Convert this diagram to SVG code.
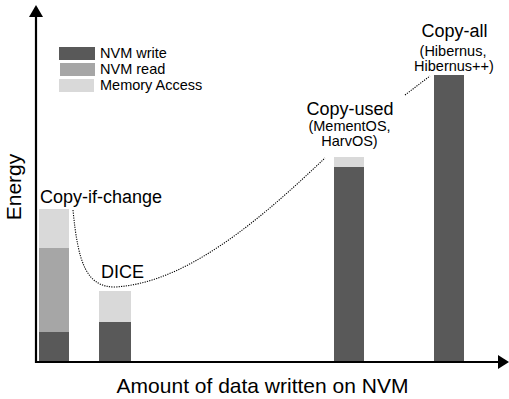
<svg xmlns="http://www.w3.org/2000/svg" width="509" height="399" viewBox="0 0 509 399">
<style>
.t{font-family:"Liberation Sans",Arial,sans-serif;fill:#000}
.lbl{font-size:18px}
.sub{font-size:14.5px}
.ax{font-size:21px}
.dk{fill:#595959}
.md{fill:#a6a6a6}
.lt{fill:#d9d9d9}
.dot{fill:none;stroke:#000;stroke-width:1.1;stroke-dasharray:1.2 1.2}
</style>
<rect width="509" height="399" fill="#fff"/>
<g id="legend">
<rect class="dk" x="59" y="47" width="36" height="13"/>
<rect class="md" x="60" y="63" width="35" height="13"/>
<rect class="lt" x="59" y="79" width="35" height="13"/>
<text class="t sub" x="100" y="58">NVM write</text>
<text class="t sub" x="100" y="74">NVM read</text>
<text class="t sub" x="100" y="90">Memory Access</text>
</g>
<g id="copy-if-change">
<rect class="lt" x="39" y="209" width="30" height="39"/>
<rect class="md" x="39" y="248" width="30" height="84"/>
<rect class="dk" x="39" y="332" width="30" height="29"/>
<text class="t lbl" x="40" y="203">Copy-if-change</text>
</g>
<g id="dice">
<rect class="lt" x="99" y="291" width="32" height="31"/>
<rect class="dk" x="99" y="322" width="32" height="39"/>
<text class="t lbl" x="101" y="278">DICE</text>
</g>
<g id="copy-used">
<rect class="lt" x="334" y="157" width="30" height="10"/>
<rect class="dk" x="334" y="167" width="30" height="194"/>
<text class="t lbl" x="350" y="115" text-anchor="middle">Copy-used</text>
<text class="t sub" x="349.5" y="131" text-anchor="middle">(MementOS,</text>
<text class="t sub" x="349.5" y="146" text-anchor="middle">HarvOS)</text>
</g>
<g id="copy-all">
<rect class="dk" x="434" y="75" width="30" height="286"/>
<text class="t lbl" x="454.5" y="37" text-anchor="middle">Copy-all</text>
<text class="t sub" x="453" y="56" text-anchor="middle">(Hibernus,</text>
<text class="t sub" x="454" y="71" text-anchor="middle">Hibernus++)</text>
</g>
<g id="connectors">
<path class="dot" d="M73,210 C78,262 86,287 115,287 C190,283 268,212 325,158"/>
<path class="dot" d="M405,95 L430,76"/>
</g>
<g id="axes">
<line x1="36" y1="16" x2="36" y2="363" stroke="#000" stroke-width="2.2"/>
<polygon points="36,5 29,17 43,17" fill="#000"/>
<line x1="35" y1="362" x2="500" y2="362" stroke="#000" stroke-width="2.2"/>
<polygon points="509,362 498,355 498,369" fill="#000"/>
<text class="t ax" x="21" y="187" text-anchor="middle" transform="rotate(-90 21 187)">Energy</text>
<text class="t ax" x="262.5" y="393" text-anchor="middle">Amount of data written on NVM</text>
</g>
</svg>
